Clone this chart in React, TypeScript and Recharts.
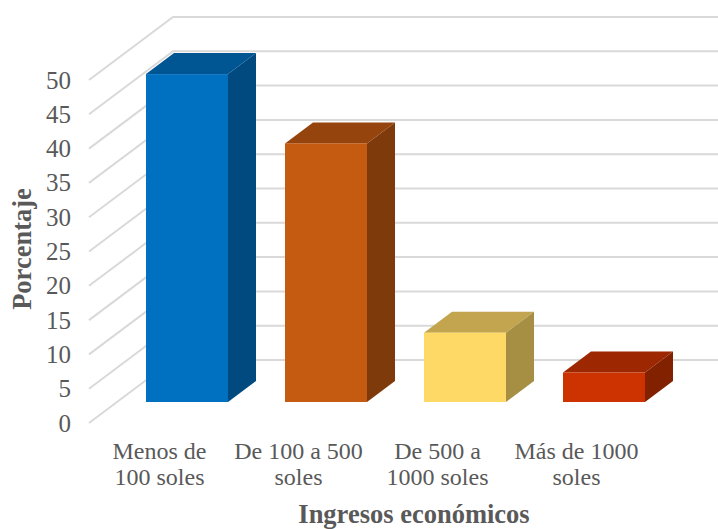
import React from "react";
import { BarChart, Bar, XAxis, YAxis, CartesianGrid, Label } from "recharts";

const categories = ["Menos de\n100 soles", "De 100 a 500\nsoles", "De 500 a\n1000 soles", "Más de 1000\nsoles"];
const percentages = [47.8, 37.7, 10.1, 4.3];
const yTicks = [0, 5, 10, 15, 20, 25, 30, 35, 40, 45, 50];
const frontColors = ["#0070C0", "#C55A11", "#FFD966", "#CC3300"];
const topColors = ["#005693", "#96440D", "#C2A54E", "#9C2700"];
const sideColors = ["#004A80", "#7F3A0B", "#A68E43", "#822100"];

const rows = categories.map((name, i) => ({
  name,
  value: percentages[i],
  front: frontColors[i],
  top: topColors[i],
  side: sideColors[i],
}));

// Oblique projection: one depth step moves a point right and up.
const DEPTH_X = 28;
const DEPTH_Y = 21;
const TEXT = "#595959";
const GRID = "#d9d9d9";
const FONT = "'Liberation Serif', 'Times New Roman', serif";

function Box3D(props: any) {
  const { x, y, width, height, payload } = props;
  const r = x + width;
  const b = y + height;
  return (
    <g>
      <polygon
        points={`${x},${y} ${x + DEPTH_X},${y - DEPTH_Y} ${r + DEPTH_X},${y - DEPTH_Y} ${r},${y}`}
        fill={payload.top}
      />
      <polygon
        points={`${r},${y} ${r + DEPTH_X},${y - DEPTH_Y} ${r + DEPTH_X},${b - DEPTH_Y} ${r},${b}`}
        fill={payload.side}
      />
      <rect x={x} y={y} width={width} height={height} fill={payload.front} />
    </g>
  );
}

// A level line crosses the left wall (one step in front of the bars, two behind),
// then runs along the back wall to the edge of the chart.
function WallLine(props: any) {
  const { x1, x2, y1 } = props;
  const frontX = x1 - DEPTH_X;
  const frontY = y1 + DEPTH_Y;
  const backX = x1 + 2 * DEPTH_X;
  const backY = y1 - 2 * DEPTH_Y;
  return (
    <polyline
      points={`${frontX},${frontY} ${backX},${backY} ${x2 + 45},${backY}`}
      fill="none"
      stroke={GRID}
      strokeWidth={2}
    />
  );
}

function ValueTick(props: any) {
  const { y, payload } = props;
  return (
    <text x={71} y={y + DEPTH_Y + 8.5} textAnchor="end" fontFamily={FONT} fontSize={25} fill={TEXT}>
      {payload.value}
    </text>
  );
}

function CategoryTick(props: any) {
  const { x, payload } = props;
  const lines = String(payload.value).split("\n");
  return (
    <text textAnchor="middle" fontFamily={FONT} fontSize={24} fill={TEXT}>
      {lines.map((line, i) => (
        <tspan key={i} x={x - 27} y={459 + i * 26}>
          {line}
        </tspan>
      ))}
    </text>
  );
}

export default function App() {
  return (
    <div style={{ position: "absolute", left: 0, top: 0, width: 718, height: 529, background: "#fff" }}>
      <BarChart
        width={718}
        height={529}
        data={rows}
        margin={{ top: 59, right: 45, bottom: 0, left: 0 }}
        barSize={82}
      >
        <CartesianGrid vertical={false} horizontal={(p: any) => <WallLine key={p.key ?? p.index} {...p} />} />
        <XAxis
          dataKey="name"
          height={127}
          axisLine={false}
          tickLine={false}
          interval={0}
          tick={<CategoryTick />}
        >
          <Label
            content={() => (
              <text x={414} y={523} textAnchor="middle" fontFamily={FONT} fontSize={26.5} fontWeight="bold" fill={TEXT}>
                Ingresos económicos
              </text>
            )}
          />
        </XAxis>
        <YAxis
          width={117}
          domain={[0, 50]}
          ticks={yTicks}
          axisLine={false}
          tickLine={false}
          interval={0}
          tick={<ValueTick />}
        >
          <Label
            content={() => (
              <text
                transform="translate(31,249) rotate(-90)"
                textAnchor="middle"
                fontFamily={FONT}
                fontSize={26.5}
                fontWeight="bold"
                fill={TEXT}
              >
                Porcentaje
              </text>
            )}
          />
        </YAxis>
        <Bar dataKey="value" isAnimationActive={false} shape={<Box3D />} />
      </BarChart>
    </div>
  );
}
